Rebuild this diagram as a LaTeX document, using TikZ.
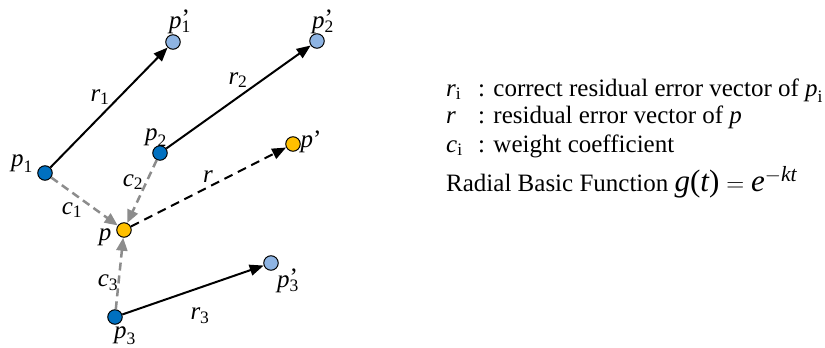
\documentclass[tikz,border=0pt]{standalone}
\usepackage{amsmath}
\usepackage{fontspec}
\setmainfont{Liberation Serif}
\usepackage{tikz}
\usetikzlibrary{arrows.meta}
\definecolor{ptblue}{HTML}{0070C0}
\definecolor{ptlight}{HTML}{8EB4E3}
\definecolor{ptgold}{HTML}{FFC000}
\definecolor{coefgray}{HTML}{8C8C8C}
\newcommand{\plab}[1]{$\textit{p}_{\text{#1}}$}
\newcommand{\plabq}[1]{$\textit{p}\rlap{\raisebox{2pt}{'}}_{\text{#1}}$}

\begin{document}
\begin{tikzpicture}[x=1pt, y=-1pt, font=\fontsize{25}{25}\selectfont,
		dot/.style={circle, draw=black, line width=1pt, minimum size=14.5pt, inner sep=0pt},
		resid/.style={-{Triangle[length=14pt,width=11pt]}, line width=2pt},
		coef/.style={-{Triangle[length=13pt,width=11pt]}, line width=2.5pt, color=coefgray, dash pattern=on 8pt off 5pt},
		keytext/.style={anchor=base west, inner sep=0pt}]
		\useasboundingbox (0,0) rectangle (825,348);
		\node [dot, fill=ptblue] (p1) at (45,173) {};
		\node [dot, fill=ptblue] (p2) at (160,153) {};
		\node [dot, fill=ptblue] (p3) at (115,317) {};
		\node [dot, fill=ptlight] (p1p) at (173,42) {};
		\node [dot, fill=ptlight] (p2p) at (317,41) {};
		\node [dot, fill=ptlight] (p3p) at (271,263) {};
		\node [dot, fill=ptgold] (p) at (124,230) {};
		\node [dot, fill=ptgold] (pp) at (293,144) {};
		\draw [resid] (p1) -- (p1p);
		\draw [resid] (p2) -- (p2p);
		\draw [resid] (p3) -- (p3p);
		\draw [resid, dash pattern=on 9pt off 6pt] (p) -- (pp);
		\draw [coef] (p1) -- (p);
		\draw [coef] (p2) -- (p);
		\draw [coef] (p3) -- (p);
		\node (lp1) at (22,164) {\plab{1}};
		\node (lp2) at (156,138) {\plab{2}};
		\node (lp3) at (125,336) {\plab{3}};
		\node (lp1p) at (180,22) {\plabq{1}};
		\node (lp2p) at (323,22) {\plabq{2}};
		\node (lp3p) at (288,281) {\plabq{3}};
		\node (lp) at (105,237) {\textit{p}};
		\node (lpp) at (311,142) {\textit{p}\text{'}};
		\node (lr1) at (100,97) {$\textit{r}_{\text{1}}$};
		\node (lr2) at (238,80) {$\textit{r}_{\text{2}}$};
		\node (lr3) at (200,316) {$\textit{r}_{\text{3}}$};
		\node (lr) at (208,177) {\textit{r}};
		\node (lc1) at (72,210) {$\textit{c}_{\text{1}}$};
		\node (lc2) at (133,182) {$\textit{c}_{\text{2}}$};
		\node (lc3) at (108,283) {$\textit{c}_{\text{3}}$};
		\node [keytext] (kri) at (446,96) {$\textit{r}_{\text{i}}$};
		\node [keytext] (kri t) at (478,96) {: correct residual error vector of $\textit{p}_{\text{i}}$};
		\node [keytext] (kr) at (446,123) {\textit{r}};
		\node [keytext] (kr t) at (478,123) {: residual error vector of \textit{p}};
		\node [keytext] (kci) at (446,152) {$\textit{c}_{\text{i}}$};
		\node [keytext] (kci t) at (478,152) {: weight coefficient};
		\node [keytext] (krbf) at (446,191) {Radial Basic Function {\fontsize{31}{31}\selectfont$\textit{g}\text{(}\textit{t}\text{)} = \textit{e}^{-\textit{kt}}$}};
	\end{tikzpicture}
\end{document}
